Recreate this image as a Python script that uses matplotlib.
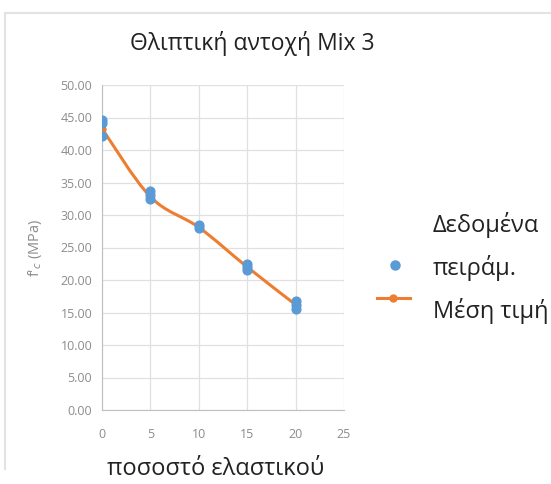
import numpy as np
import matplotlib.pyplot as plt
from matplotlib.path import Path
from matplotlib.patches import PathPatch
from matplotlib.lines import Line2D

plt.rcParams['font.family'] = ['Open Sans', 'DejaVu Sans']

# experimental points
exp_x = [0, 0, 0, 5, 5, 5, 10, 10, 15, 15, 15, 20, 20, 20]
exp_y = [44.6, 44.2, 42.2, 33.7, 33.1, 32.4, 28.4, 28.0, 22.5, 22.0, 21.6, 16.8, 16.2, 15.6]

# mean values
mean_x = [0, 5, 10, 15, 20]
mean_y = [43.3, 32.8, 28.1, 22.0, 16.2]

blue = '#5b9bd5'
orange = '#ed7d31'
W, H = 551, 484

fig = plt.figure(figsize=(5.51, 4.84), dpi=100)
ax = fig.add_axes([102 / W, 1 - 410 / H, 242 / W, 325 / H])

# smooth line like excel (catmull-rom through the means)
pts = np.column_stack([mean_x, mean_y])
verts = [tuple(pts[0])]
codes = [Path.MOVETO]
for i in range(len(pts) - 1):
    p0 = pts[i - 1] if i > 0 else pts[i]
    p1 = pts[i]
    p2 = pts[i + 1]
    p3 = pts[i + 2] if i + 2 < len(pts) else pts[i + 1]
    c1 = p1 + (p2 - p0) / 6
    c2 = p2 - (p3 - p1) / 6
    verts += [tuple(c1), tuple(c2), tuple(p2)]
    codes += [Path.CURVE4] * 3
ax.add_patch(PathPatch(Path(verts, codes), facecolor='none', edgecolor=orange, lw=2.2, zorder=3))
ax.plot(mean_x, mean_y, 'o', color=orange, ms=5, zorder=4)
ax.scatter(exp_x, exp_y, s=40, color=blue, zorder=5)

ax.set_xlim(0, 25)
ax.set_ylim(0, 50)
ax.set_xticks(range(0, 26, 5))
ax.set_yticks(np.arange(0, 50.1, 5))
ax.set_yticklabels([f'{v:.2f}' for v in np.arange(0, 50.1, 5)])
ax.tick_params(colors='#8c8c8c', labelsize=9, length=0)
ax.tick_params(axis='x', pad=13)
ax.tick_params(axis='y', pad=7)
ax.grid(True, color='#e0e0e0', lw=0.9)
ax.set_axisbelow(True)
for s in ['top', 'right']:
    ax.spines[s].set_visible(False)
for s in ['left', 'bottom']:
    ax.spines[s].set_color('#bfbfbf')

fig.text(252 / W, 1 - 44 / H, 'Θλιπτική αντοχή Mix 3', fontsize=16.5,
         color='#222222', ha='center', va='center')
fig.text(216 / W, 1 - 475 / H, 'ποσοστό ελαστικού', fontsize=17,
         color='#222222', ha='center', va='baseline')
fig.text(35 / W, 1 - 248 / H, "f'$_c$ (MPa)", fontsize=10.5, color='#8c8c8c',
         rotation=90, ha='center', va='center')

# legend, placed like the excel one
fig.add_artist(Line2D([395 / W], [1 - 265 / H], marker='o', ls='none', color=blue, ms=6.5))
fig.add_artist(Line2D([377 / W, 410 / W], [1 - 298 / H] * 2, color=orange, lw=2.2))
fig.add_artist(Line2D([393 / W], [1 - 298 / H], marker='o', color=orange, ms=5))
for txt, yb in [('Δεδομένα', 232), ('πειράμ.', 275), ('Μέση τιμή', 318)]:
    fig.text(433 / W, 1 - yb / H, txt, fontsize=17, color='#222222', ha='left', va='baseline')

# light frame of the chart area
fig.add_artist(Line2D([0.009, 0.009], [0.03, 0.973], color='#e3e3e3', lw=1.5))
fig.add_artist(Line2D([0.009, 1.0], [0.973, 0.973], color='#e3e3e3', lw=1.5))

fig.savefig('out.png', dpi=100)
